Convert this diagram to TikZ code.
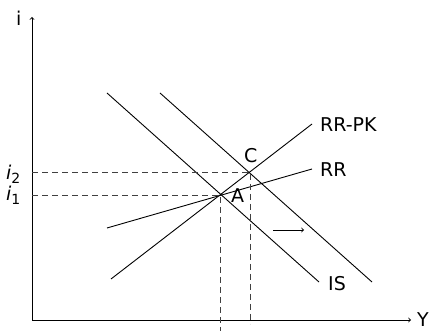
\documentclass[tikz,border=0pt]{standalone}
\usepackage{fontspec}
\setmainfont{DejaVu Sans}
\usetikzlibrary{calc}
\begin{document}
\begin{tikzpicture}[x=1pt,y=-1pt,
  every node/.style={inner sep=0pt, anchor=base west, font=\fontsize{19}{22}\selectfont},
  ln/.style={line width=0.9pt},
  dsh/.style={line width=0.9pt, dash pattern=on 6pt off 4pt, black!75}]
\useasboundingbox (0,0) rectangle (437,331);
% axes
\coordinate (O) at (32,320);
\coordinate (ytop) at (32,17);
\coordinate (xend) at (411,320);
\coordinate (bot) at (0,331);
\coordinate (bot2) at (0,324);
\draw[ln,->] (O) -- (ytop);
\draw[ln,->] (O) -- (xend);
\node (ilab) at (16,26) {i};
\node (Ylab) at (417,326.5) {Y};
% key points
\coordinate (A) at (220,195);
\coordinate (C) at (250,172);
% curves
\coordinate (is1a) at (107,93);  \coordinate (is1b) at (319,282);
\coordinate (is2a) at (160,93);  \coordinate (is2b) at (372,282);
\coordinate (pka) at (111,279);  \coordinate (pkb) at (312,124);
\coordinate (rra) at (107,228);  \coordinate (rrb) at (312,169);
\draw[ln] (is1a) -- (is1b);
\draw[ln] (is2a) -- (is2b);
\draw[ln] (pka) -- (pkb);
\draw[ln] (rra) -- (rrb);
% dashed guides
\draw[dsh] (A -| O) -- (A) -- (A |- bot);
\draw[dsh] (C -| O) -- (C) -- (C |- bot2);
% shift arrow
\coordinate (sa) at (273,230);
\coordinate (sb) at (304,230);
\draw[ln,->] (sa) -- (sb);
% labels
\node (lpk) at (320,132) {RR-PK};
\node (lrr) at (320,177) {RR};
\node (lC) at (244,163) {C};
\node (lA) at (231,203) {A};
\node (lIS) at (328,291) {IS};
\node (li2) at (6,180) {\itshape i\raisebox{-0.35ex}{\fontsize{14}{15}\selectfont\upshape 2}};
\node (li1) at (6,201) {\itshape i\raisebox{-0.35ex}{\fontsize{14}{15}\selectfont\upshape 1}};
\end{tikzpicture}
\end{document}
